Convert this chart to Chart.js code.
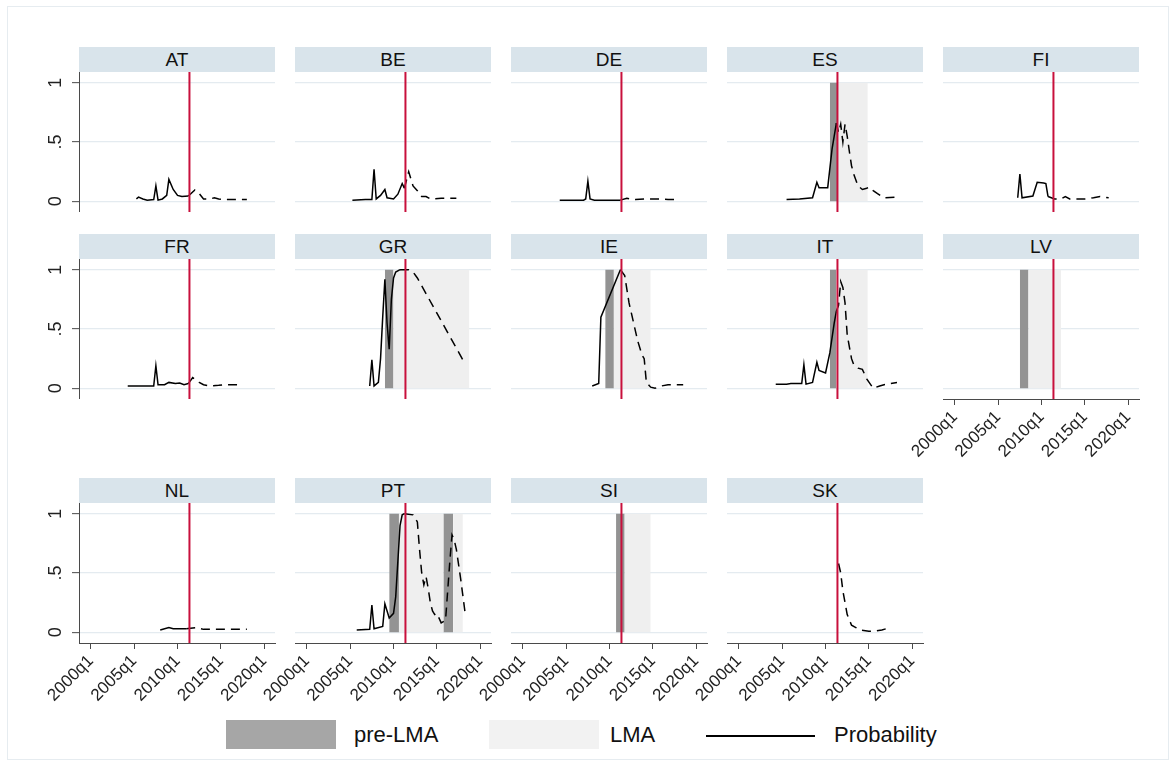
<!DOCTYPE html>
<html>
<head>
<meta charset="utf-8">
<script src="https://cdn.jsdelivr.net/npm/chart.js@4.4.1/dist/chart.umd.min.js"></script>
<style>
  html, body { margin: 0; padding: 0; background: #fff; }
  body { width: 1169px; height: 760px; position: relative; overflow: hidden;
         font-family: "Liberation Sans", Arial, sans-serif; color: #111; }
  .frame { position: absolute; left: 7px; top: 6px; width: 1162px; height: 754px;
           border: 1px solid #e6ecf0; box-sizing: border-box; }
  .strip { position: absolute; width: 196px; height: 25px; line-height: 26px;
           background: #d9e4eb; text-align: center; font-size: 19px; }
  canvas { position: absolute; }
  .swatch { position: absolute; top: 720px; width: 110px; height: 29px; }
  .key { position: absolute; top: 735px; width: 109px; height: 2px; background: #000; }
  .label { position: absolute; top: 720px; height: 30px; line-height: 30px; font-size: 22px; }
</style>
</head>
<body>
<div class="frame"></div>

<!-- legend -->
<div class="swatch" style="left:226px; background:#a6a6a6"></div>
<div class="label" style="left:354px">pre-LMA</div>
<div class="swatch" style="left:489px; background:#f2f2f2"></div>
<div class="label" style="left:610px">LMA</div>
<div class="key" style="left:706px"></div>
<div class="label" style="left:834px">Probability</div>

<script>
// quarters counted from 2000q1 (= 0)
const countries = ['AT', 'BE', 'DE', 'ES', 'FI', 'FR', 'GR', 'IE', 'IT', 'LV', 'NL', 'PT', 'SI', 'SK'];
const xTicks = [0, 20, 40, 60, 80];
const xTickLabels = ['2000q1', '2005q1', '2010q1', '2015q1', '2020q1'];
const yTicks = [0, 0.5, 1];
const yTickLabels = ['0', '.5', '1'];
const redLineQ = 45.5;

// shaded periods [from, to] per country (same order as countries)
const preLmaSpans = [[], [], [], [[42, 45.5]], [], [], [[36, 40]], [[38, 42]], [[42, 45]], [[30, 34]], [], [[38, 42.5], [63, 67.5]], [[43, 47]], []];
const lmaSpans = [[], [], [], [[45.5, 59.5]], [], [], [[40, 75]], [[42, 59]], [[45, 59.5]], [[34, 49]], [], [[42.5, 63], [67.5, 72]], [[47, 59]], []];

// probability, [quarter, value]
const probAT = [[21,0.02],[22,0.035],[24,0.02],[26,0.01],[29,0.015],[30,0.13],[31,0.01],[33,0.02],[35,0.05],[36,0.185],[38,0.1],[40,0.05],[42,0.04],[45,0.045],[48,0.095],[50,0.065],[52,0.02],[55,0.02],[57,0.03],[59,0.02],[62,0.015],[72,0.015]];
const probBE = [[21,0.01],[27,0.015],[30,0.015],[31,0.27],[32,0.02],[34,0.05],[36,0.1],[37,0.03],[40,0.02],[42,0.06],[44,0.15],[45,0.11],[47,0.25],[49,0.13],[51,0.09],[53,0.04],[55,0.04],[57,0.02],[62,0.025],[69,0.025]];
const probDE = [[17,0.01],[28,0.01],[29,0.02],[30,0.17],[31,0.02],[33,0.01],[45,0.01],[48,0.025],[52,0.015],[57,0.02],[63,0.02],[67,0.015],[72,0.015]];
const probES = [[22,0.015],[28,0.02],[34,0.03],[36,0.16],[37,0.115],[41,0.115],[43,0.44],[44,0.55],[45,0.66],[46,0.58],[47,0.65],[48,0.5],[49,0.65],[50,0.55],[51,0.42],[52,0.3],[53,0.23],[55,0.13],[57,0.1],[59,0.11],[60,0.12],[62,0.09],[64,0.065],[67,0.03],[72,0.035]];
const probFI = [[29,0.03],[30,0.23],[31,0.03],[36,0.045],[38,0.16],[41,0.155],[42,0.15],[43,0.04],[46,0.02],[49,0.02],[51,0.04],[53,0.02],[60,0.02],[64,0.03],[67,0.04],[71,0.03]];
const probFR = [[17,0.02],[29,0.02],[30,0.19],[31,0.03],[34,0.03],[36,0.05],[39,0.04],[41,0.045],[43,0.03],[45,0.04],[47,0.09],[50,0.05],[52,0.03],[55,0.02],[59,0.025],[62,0.03],[69,0.03]];
const probGR = [[29,0.02],[30,0.24],[31,0.02],[33,0.05],[34,0.25],[35,0.6],[36,0.92],[37,0.55],[38,0.33],[39,0.75],[40,0.93],[41,0.98],[43,1],[47,1],[49,0.98],[51,0.93],[72,0.24]];
const probIE = [[32,0.02],[35,0.04],[36,0.6],[45,1],[47,0.95],[49,0.72],[53,0.4],[55,0.28],[56,0.25],[57,0.05],[59,0.01],[61,0],[64,0.02],[67,0.03],[74,0.03]];
const probIT = [[17,0.035],[22,0.035],[24,0.04],[29,0.04],[30,0.2],[31,0.035],[34,0.05],[36,0.22],[37,0.15],[40,0.13],[42,0.3],[44,0.55],[45,0.65],[46,0.7],[47,0.9],[48,0.85],[49,0.72],[50,0.45],[52,0.25],[53,0.2],[55,0.17],[57,0.16],[59,0.08],[62,0],[65,0.02],[67,0.03],[70,0.04],[73,0.05]];
const probLV = [];
const probNL = [[32,0.02],[36,0.04],[38,0.03],[44,0.03],[46,0.035],[49,0.04],[52,0.025],[72,0.025]];
const probPT = [[23,0.02],[29,0.025],[30,0.23],[31,0.03],[35,0.05],[36,0.24],[38,0.12],[40,0.16],[41,0.3],[42,0.6],[43,0.9],[44,0.99],[45,1],[49,0.99],[51,0.93],[52,0.7],[53,0.5],[54,0.4],[55,0.47],[56,0.37],[57,0.25],[58,0.18],[59,0.15],[60,0.16],[62,0.08],[64,0.1],[65,0.35],[66,0.6],[67,0.82],[68,0.78],[69,0.7],[71,0.45],[73,0.17]];
const probSI = [];
const probSK = [[46,0.58],[47,0.5],[48,0.35],[50,0.15],[52,0.06],[54,0.04],[56,0.02],[60,0.01],[63,0.01],[66,0.02],[69,0.035]];

const probSeries = [probAT, probBE, probDE, probES, probFI, probFR, probGR, probIE, probIT, probLV, probNL, probPT, probSI, probSK];

// layout
const colLefts = [79, 295, 511, 727, 943];
const rowTops = [47, 234, 478];
const STRIP_H = 25, PLOT_W = 196, PLOT_H = 140;
const PAD_L = 48, PAD_R = 8, AXIS_H = 64;
const X_MIN = -5.5, X_MAX = 85, Y_MIN = -0.09, Y_MAX = 1.09;

const RED = '#c8103c', GRID = '#e4ebf0', AXIS = '#4a4a4a';
const PRE_COLOR = '#939393', LMA_COLOR = '#efefef';

Chart.defaults.font.family = '"Liberation Sans", Arial, sans-serif';

function zeroPad(scale) {
    scale.paddingLeft = 0;
    scale.paddingRight = 0;
    scale.paddingTop = 0;
    scale.paddingBottom = 0;
}

function spanSet(span, color) {
    return {
        data: [{ x: span[0], y: 1 }, { x: span[1], y: 1 }],
        fill: 'origin',
        backgroundColor: color,
        borderWidth: 0,
        order: 2
    };
}

countries.forEach((name, i) => {
    const col = i % 5, row = Math.floor(i / 5);
    const bottom = i >= 9;      // no panel below
    const first = col === 0;

    const strip = document.createElement('div');
    strip.className = 'strip';
    strip.style.left = colLefts[col] + 'px';
    strip.style.top = rowTops[row] + 'px';
    strip.textContent = name;
    document.body.appendChild(strip);

    const canvas = document.createElement('canvas');
    canvas.width = PAD_L + PLOT_W + PAD_R;
    canvas.height = PLOT_H + (bottom ? AXIS_H : 0);
    canvas.style.left = (colLefts[col] - PAD_L) + 'px';
    canvas.style.top = (rowTops[row] + STRIP_H) + 'px';
    document.body.appendChild(canvas);

    const datasets = [];
    lmaSpans[i].forEach(s => datasets.push(spanSet(s, LMA_COLOR)));
    preLmaSpans[i].forEach(s => datasets.push(spanSet(s, PRE_COLOR)));
    datasets.push({
        data: probSeries[i].map(p => ({ x: p[0], y: p[1] })),
        borderColor: '#000',
        borderWidth: 1.5,
        order: 1,
        segment: {
            // dashed after the red line
            borderDash: ctx => ctx.p1.parsed.x > redLineQ ? [9, 6] : undefined
        }
    });
    datasets.push({
        data: [{ x: redLineQ, y: Y_MIN }, { x: redLineQ, y: Y_MAX }],
        borderColor: RED,
        borderWidth: 2,
        order: 0
    });

    new Chart(canvas, {
        type: 'line',
        data: { datasets: datasets },
        options: {
            responsive: false,
            animation: false,
            devicePixelRatio: 1,
            // first column: the y axis itself takes the left space (labels are clipped to it)
            layout: { padding: { left: first ? 0 : PAD_L, right: PAD_R, top: 0, bottom: 0 } },
            elements: { point: { radius: 0 }, line: { tension: 0 } },
            plugins: { legend: { display: false }, tooltip: { enabled: false } },
            scales: {
                x: {
                    type: 'linear',
                    min: X_MIN,
                    max: X_MAX,
                    display: bottom,
                    afterBuildTicks: s => { s.ticks = xTicks.map(v => ({ value: v })); },
                    afterFit: s => { if (bottom) s.height = AXIS_H; zeroPad(s); },
                    grid: { drawOnChartArea: false, drawTicks: true, tickLength: 6, tickColor: AXIS, tickWidth: 1 },
                    border: { display: true, color: AXIS, width: 1 },
                    ticks: {
                        autoSkip: false,
                        minRotation: 45,
                        maxRotation: 45,
                        padding: 2,
                        color: '#222',
                        font: { size: 17 },
                        callback: v => xTickLabels[xTicks.indexOf(v)]
                    }
                },
                y: {
                    type: 'linear',
                    min: Y_MIN,
                    max: Y_MAX,
                    afterBuildTicks: s => { s.ticks = yTicks.map(v => ({ value: v })); },
                    afterFit: s => { s.width = first ? PAD_L : 0; zeroPad(s); },
                    grid: { color: GRID, lineWidth: 1.3, drawTicks: first, tickLength: 7, tickColor: AXIS, tickWidth: 1 },
                    border: { display: first, color: AXIS, width: 1 },
                    ticks: {
                        display: first,
                        minRotation: 90,
                        maxRotation: 90,
                        crossAlign: 'center',
                        padding: 8,
                        color: '#222',
                        font: { size: 18 },
                        callback: v => yTickLabels[yTicks.indexOf(v)]
                    }
                }
            }
        }
    });
});
</script>
</body>
</html>
